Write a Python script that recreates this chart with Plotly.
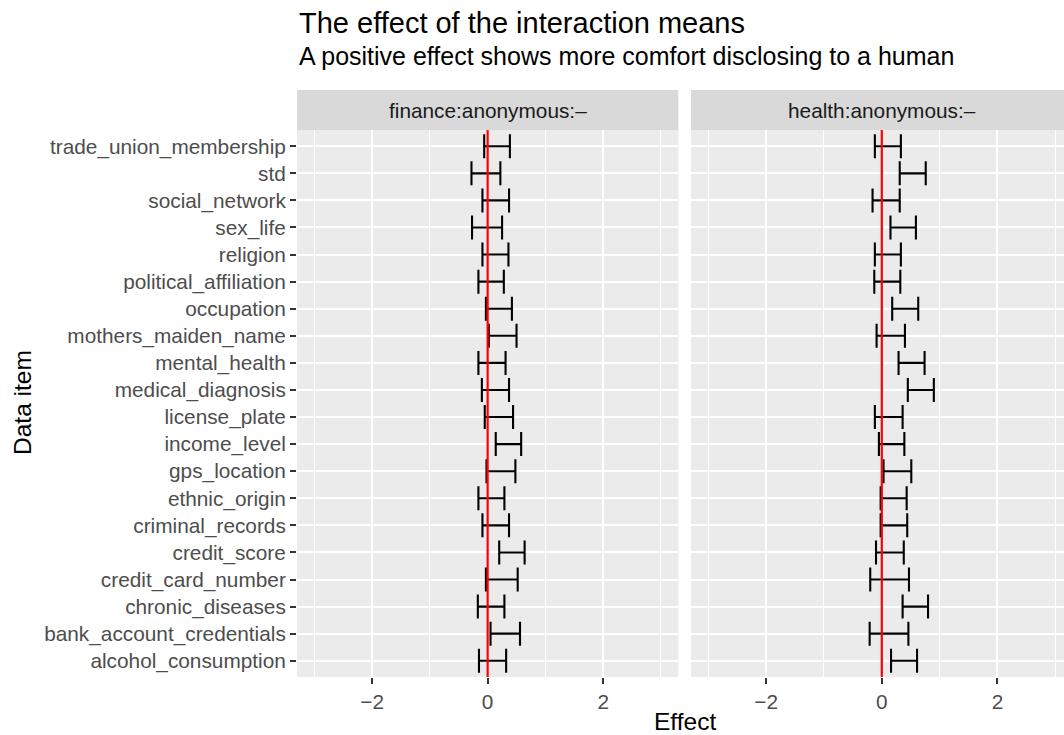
import plotly.graph_objects as go

# ---- data (bottom to top order on the y axis) ----
items = ["alcohol_consumption", "bank_account_credentials", "chronic_diseases",
         "credit_card_number", "credit_score", "criminal_records", "ethnic_origin",
         "gps_location", "income_level", "license_plate", "medical_diagnosis",
         "mental_health", "mothers_maiden_name", "occupation", "political_affiliation",
         "religion", "sex_life", "social_network", "std", "trade_union_membership"]

finance_lower = [-0.15, 0.05, -0.17, -0.03, 0.20, -0.09, -0.16, -0.02, 0.14, -0.05,
                 -0.10, -0.16, 0.02, -0.03, -0.16, -0.09, -0.27, -0.09, -0.28, -0.06]
finance_upper = [0.32, 0.56, 0.29, 0.52, 0.64, 0.37, 0.29, 0.48, 0.58, 0.44,
                 0.37, 0.31, 0.50, 0.42, 0.28, 0.36, 0.25, 0.37, 0.22, 0.385]

health_lower = [0.16, -0.21, 0.36, -0.20, -0.10, -0.02, -0.02, 0.03, -0.05, -0.12,
                0.45, 0.29, -0.09, 0.18, -0.13, -0.12, 0.15, -0.16, 0.31, -0.12]
health_upper = [0.61, 0.46, 0.80, 0.47, 0.38, 0.44, 0.43, 0.51, 0.39, 0.36,
                0.90, 0.74, 0.40, 0.63, 0.32, 0.33, 0.59, 0.31, 0.76, 0.33]

facets = ["finance:anonymous:–", "health:anonymous:–"]
x_ticks = [-2, 0, 2]
x_minor = [-3, -1, 1, 3]

title = "The effect of the interaction means"
subtitle = "A positive effect shows more comfort disclosing to a human"

# ---- layout geometry (pixels) ----
W, H = 1064, 735
ML, MR, MT, MB = 297, 0, 90, 58
PW, PH = W - ML - MR, H - MT - MB

def px_x(X):
    return (X - ML) / PW

def px_y(Y):
    return (H - MB - Y) / PH

FONT = "Liberation Sans, Arial, sans-serif"
TICK_SIZE = 20.8
panel_top = px_y(130)

fig = go.Figure()

ypos = list(range(len(items)))

def add_bars(lower, upper, xa, ya):
    mid = [(a + b) / 2 for a, b in zip(lower, upper)]
    half = [(b - a) / 2 for a, b in zip(lower, upper)]
    fig.add_trace(go.Scatter(
        x=mid, y=ypos, mode="markers", xaxis=xa, yaxis=ya,
        marker=dict(size=1, opacity=0),
        error_x=dict(type="data", array=half, symmetric=True, visible=True,
                     color="black", thickness=2.1, width=12),
        showlegend=False, hoverinfo="skip"))

add_bars(finance_lower, finance_upper, "x", "y")
add_bars(health_lower, health_upper, "x2", "y2")

axis_common = dict(
    showline=False, zeroline=False, ticks="outside", ticklen=6, tickwidth=2,
    tickcolor="#333333", tickfont=dict(family=FONT, size=TICK_SIZE, color="#4d4d4d"),
    gridcolor="white", gridwidth=2,
)

x_common = dict(axis_common, tickvals=x_ticks,
                minor=dict(tickvals=x_minor, gridcolor="white", gridwidth=1, ticks=""))

fig.update_layout(
    width=W, height=H,
    margin=dict(l=ML, r=MR, t=MT, b=MB, autoexpand=False),
    paper_bgcolor="white", plot_bgcolor="#ebebeb",
    xaxis=dict(x_common, domain=[0, px_x(678.3)], range=[-3.3, 3.3], anchor="y"),
    xaxis2=dict(x_common, domain=[px_x(691), 1],
                range=[-3.3, 3.3 - 6.6 * (1072.6 - 1064) / 381.6], anchor="y2"),
    yaxis=dict(axis_common, domain=[0, panel_top], range=[-0.6, len(items) - 0.4],
               tickvals=ypos, ticktext=items, anchor="x"),
    yaxis2=dict(axis_common, domain=[0, panel_top], range=[-0.6, len(items) - 0.4],
                tickvals=ypos, showticklabels=False, ticks="", anchor="x2", matches="y"),
)

shapes = []
# red reference lines at zero
for xa, yd in [("x", "y domain"), ("x2", "y2 domain")]:
    shapes.append(dict(type="line", xref=xa, yref=yd, x0=0, x1=0, y0=0, y1=1,
                       line=dict(color="red", width=2.2), layer="above"))
# strips
strip_x = [(0, px_x(678.3)), (px_x(691), 1.02)]
for (a, b) in strip_x:
    shapes.append(dict(type="rect", xref="paper", yref="paper", x0=a, x1=b,
                       y0=panel_top, y1=1, fillcolor="#d9d9d9", line=dict(width=0),
                       layer="below"))
fig.update_layout(shapes=shapes)

ann = []
for xa, lab in zip(["x", "x2"], facets):
    ann.append(dict(text=lab, xref=xa, yref="paper", x=0, y=px_y(110), xanchor="center",
                    yanchor="middle", showarrow=False,
                    font=dict(family=FONT, size=TICK_SIZE, color="#1a1a1a")))
ann.append(dict(text=title, xref="paper", yref="paper", x=px_x(297), y=px_y(23),
                xanchor="left", yanchor="middle", showarrow=False,
                font=dict(family=FONT, size=29, color="black")))
ann.append(dict(text=subtitle, xref="paper", yref="paper", x=px_x(297), y=px_y(56),
                xanchor="left", yanchor="middle", showarrow=False,
                font=dict(family=FONT, size=25, color="black")))
ann.append(dict(text="Effect", xref="paper", yref="paper", x=px_x(685), y=px_y(721),
                xanchor="center", yanchor="middle", showarrow=False,
                font=dict(family=FONT, size=24.5, color="black")))
ann.append(dict(text="Data item", xref="paper", yref="paper", x=px_x(22), y=px_y(403),
                xanchor="center", yanchor="middle", showarrow=False, textangle=-90,
                font=dict(family=FONT, size=24.5, color="black")))
fig.update_layout(annotations=ann)

fig.write_html("out.html")
